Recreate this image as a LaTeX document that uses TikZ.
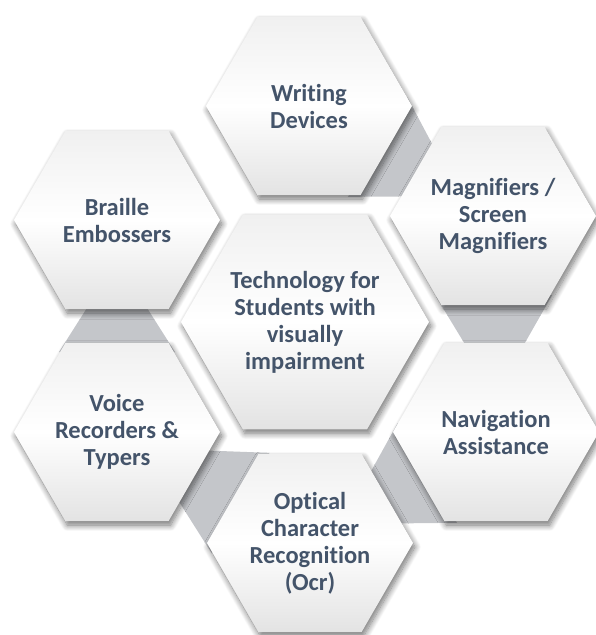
\documentclass[tikz,border=0pt]{standalone}
\usepackage{fontspec}
\setmainfont{Carlito}[Ligatures=NoCommon]
\usetikzlibrary{shapes.geometric,calc,shadows.blur}

\definecolor{hextext}{HTML}{44546A}
\definecolor{bandgray}{HTML}{C4C6CA}
\definecolor{hextop}{HTML}{F0F0F0}
\definecolor{hexbot}{HTML}{E3E3E3}

% tapered grey strip running from hexagon #1 to hexagon #2
\newcommand{\hexband}[2]{%
  \coordinate (s) at ($(#1)!80pt!(#2)$);
  \coordinate (e) at ($(#2)!80pt!(#1)$);
  \fill[bandgray] ($(s)!58pt!90:(e)$) -- ($(s)!58pt!-90:(e)$)
    -- ($(e)!25pt!90:(s)$) -- ($(e)!25pt!-90:(s)$) -- cycle;
}

\begin{document}
\begin{tikzpicture}[
    x=1pt, y=-1pt,
    hexa/.style={regular polygon, regular polygon sides=6,
                 minimum size=206pt, inner sep=0pt, align=center,
                 top color=hextop, bottom color=hexbot, middle color=white,
                 blur shadow={shadow xshift=2pt, shadow yshift=-4pt,
                              shadow blur radius=6pt, shadow blur steps=12,
                              shadow opacity=55},
                 text=hextext, font=\bfseries\fontsize{24.5}{27}\selectfont},
    core/.style={hexa, minimum size=248pt}
]
  \useasboundingbox (0,0) rectangle (595,635);

  % positions of the honeycomb cells
  \coordinate (pw) at (309,106);
  \coordinate (pm) at (493,216);
  \coordinate (pn) at (496,432);
  \coordinate (po) at (310,543);
  \coordinate (pv) at (117,432);
  \coordinate (pb) at (117,220);

  % grey links round the ring
  \hexband{pw}{pm}
  \hexband{pm}{pn}
  \hexband{pn}{po}
  \hexband{po}{pv}
  \hexband{pv}{pb}

  \node[core] (tech)    at (305,322) {Technology for\\Students with\\visually\\impairment};
  \node[hexa] (writing) at (pw) {Writing\\Devices};
  \node[hexa] (magnif)  at (pm) {Magnifiers /\\Screen\\Magnifiers};
  \node[hexa] (navig)   at (pn) {Navigation\\Assistance};
  \node[hexa] (ocr)     at (po) {Optical\\Character\\Recognition\\(Ocr)};
  \node[hexa] (voice)   at (pv) {Voice\\Recorders \&\\Typers};
  \node[hexa] (braille) at (pb) {Braille\\Embossers};
\end{tikzpicture}
\end{document}
